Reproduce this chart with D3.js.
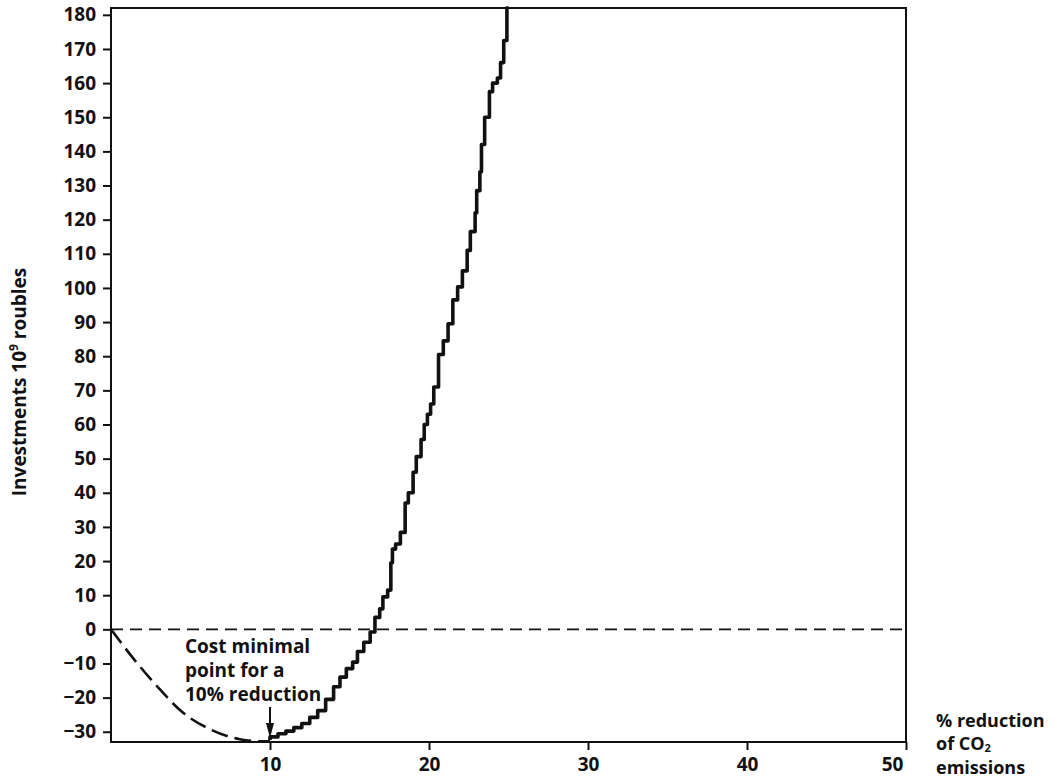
<!DOCTYPE html>
<html>
<head>
<meta charset="utf-8">
<script src="https://cdn.jsdelivr.net/npm/d3@7"></script>
<style>
body { margin: 0; background: #fff; }
text { font-family: "Open Sans", sans-serif; font-weight: 700; fill: #111; }
</style>
</head>
<body>
<svg id="chart" width="1063" height="780"></svg>
<script>
// % reduction of CO2 vs investments (10^9 roubles)
var yTicks = [-30,-20,-10,0,10,20,30,40,50,60,70,80,90,100,110,120,130,140,150,160,170,180];
var xTicks = [10,20,30,40,50];

// dashed part (left of cost minimum)
var dashX = [0, 1.4, 2.9, 4.5, 6.2, 8.1, 9.4, 10.0];
var dashY = [0, -8.5, -16.7, -24.3, -29.2, -32.2, -32.8, -32.8];

// stepped curve
var stepX = [10.0,10.5,11.0,11.5,12.0,12.5,13.0,13.5,14.0,14.4,14.8,15.2,15.5,15.9,16.3,16.6,16.9,17.1,17.4,17.6,
	17.7,17.9,18.2,18.5,18.7,19.0,19.2,19.5,19.7,19.9,20.1,20.3,20.6,20.9,21.2,21.5,21.8,22.1,22.4,22.6,
	22.9,23.0,23.2,23.3,23.5,23.8,24.0,24.3,24.5,24.7,24.9,25.0];
var stepY = [-32.4,-31.5,-30.6,-29.8,-28.8,-27.6,-25.8,-23.8,-20.5,-16.8,-14.0,-11.5,-9.6,-6.5,-3.8,-0.8,3.5,6.0,9.5,11.5,
	19.5,23.5,25.0,28.4,37.0,40.0,46.0,50.6,55.6,60.0,63.0,66.0,71.0,80.5,84.5,89.5,96.5,100.3,105.0,111.0,
	116.5,122.0,128.5,134.0,142.0,150.0,157.5,160.0,161.5,166.0,172.5,182];

var annotationLines = ['Cost minimal', 'point for a', '10% reduction'];
var minimumX = 10;

var svg = d3.select('#chart');
var plotL = 111, plotR = 906, plotT = 8, plotB = 742;

var x = d3.scaleLinear().domain([0,50]).range([plotL,plotR]);
var y = d3.scaleLinear().domain([-33,182]).range([plotB,plotT]);

// frame
svg.append('rect')
	.attr('x', plotL).attr('y', plotT)
	.attr('width', plotR-plotL).attr('height', plotB-plotT)
	.attr('fill', 'none').attr('stroke', '#111').attr('stroke-width', 2);

// y axis
var yAxis = svg.append('g').attr('transform', 'translate(' + plotL + ',0)')
	.call(d3.axisLeft(y).tickValues(yTicks).tickSize(8).tickPadding(7)
		.tickFormat(d => d < 0 ? '\u2212' + Math.abs(d) : d));
yAxis.select('.domain').remove();
yAxis.selectAll('line').attr('stroke', '#111').attr('stroke-width', 2);
yAxis.selectAll('text').style('font-size', '19px').attr('fill', '#111');

// x axis
var xAxis = svg.append('g').attr('transform', 'translate(0,' + plotB + ')')
	.call(d3.axisBottom(x).tickValues(xTicks).tickSize(8).tickPadding(8));
xAxis.select('.domain').remove();
xAxis.selectAll('line').attr('stroke', '#111').attr('stroke-width', 2);
xAxis.selectAll('text').style('font-size', '19px').attr('fill', '#111')
	.attr('dx', d => d == 50 ? -14 : 0);

// zero line
svg.append('line')
	.attr('x1', x(0)).attr('x2', x(50))
	.attr('y1', y(0)).attr('y2', y(0))
	.attr('stroke', '#111').attr('stroke-width', 1.6)
	.attr('stroke-dasharray', '12,7');

// dashed curve
var dashData = dashX.map((d,i) => [d, dashY[i]]);
svg.append('path').datum(dashData)
	.attr('d', d3.line().x(d => x(d[0])).y(d => y(d[1])).curve(d3.curveMonotoneX))
	.attr('fill', 'none').attr('stroke', '#111').attr('stroke-width', 2.6)
	.attr('stroke-dasharray', '17,7');

// stepped curve
var stepData = stepX.map((d,i) => [d, stepY[i]]);
svg.append('path').datum(stepData)
	.attr('d', d3.line().x(d => x(d[0])).y(d => y(d[1])).curve(d3.curveStepBefore))
	.attr('fill', 'none').attr('stroke', '#111').attr('stroke-width', 3.6)
	.attr('stroke-linejoin', 'round');

// annotation
svg.append('g').selectAll('text').data(annotationLines).enter().append('text')
	.attr('x', 185).attr('y', (d,i) => 653 + i*24)
	.style('font-size', '19px')
	.text(d => d);

// arrow
svg.append('line')
	.attr('x1', x(minimumX)).attr('x2', x(minimumX))
	.attr('y1', 707).attr('y2', 726)
	.attr('stroke', '#111').attr('stroke-width', 2);
svg.append('path')
	.attr('d', 'M' + (x(minimumX)-4) + ',723 L' + (x(minimumX)+4) + ',723 L' + x(minimumX) + ',738 Z')
	.attr('fill', '#111');

// x label
var xl = svg.append('g').style('font-size', '18px');
xl.append('text').attr('x', 936).attr('y', 727).text('% reduction');
var co = xl.append('text').attr('x', 936).attr('y', 750);
co.append('tspan').text('of CO');
co.append('tspan').attr('dy', 2).style('font-size', '11px').text('2');
xl.append('text').attr('x', 936).attr('y', 774).text('emissions');

// y label
var yl = svg.append('text')
	.attr('transform', 'translate(26,382) rotate(-90)')
	.attr('text-anchor', 'middle')
	.style('font-size', '19px');
yl.append('tspan').text('Investments  10');
yl.append('tspan').attr('dy', -8).style('font-size', '12px').text('9');
yl.append('tspan').attr('dy', 8).text(' roubles');
</script>
</body>
</html>
